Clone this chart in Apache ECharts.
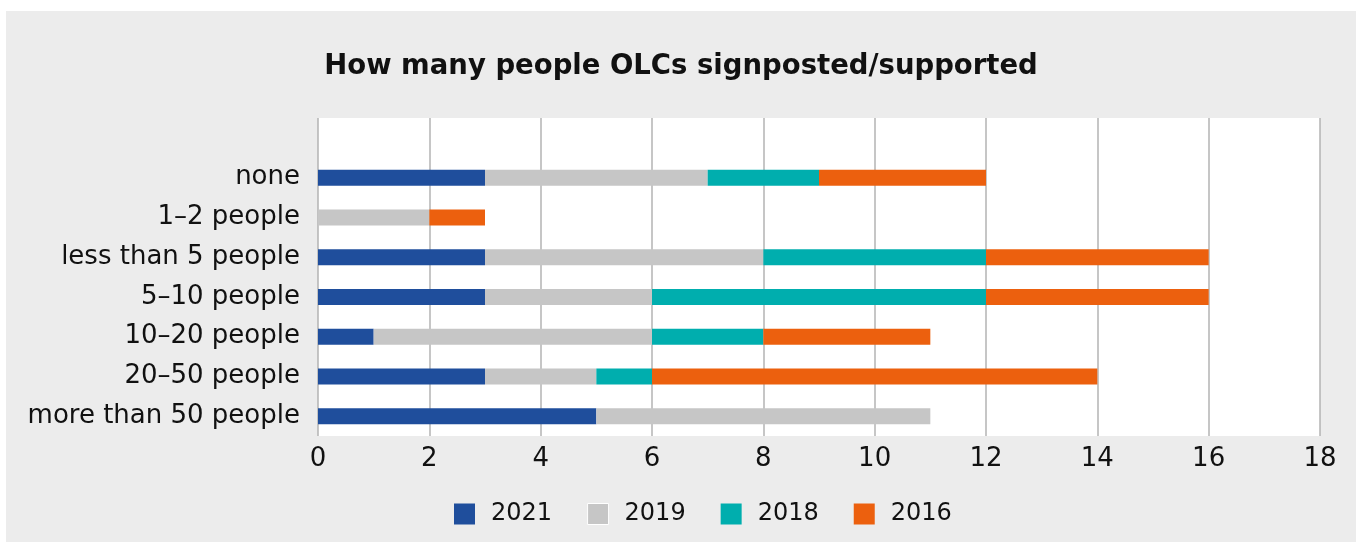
<!DOCTYPE html>
<html>
<head>
<meta charset="utf-8">
<script src="https://cdn.jsdelivr.net/npm/echarts@6/dist/echarts.min.js"></script>
<style>
html,body{margin:0;padding:0;background:#fff;width:1356px;height:542px;overflow:hidden;}
#chart{position:absolute;left:6px;top:11px;width:1350px;height:531px;background:#ececec;}
</style>
</head>
<body>
<div id="chart"></div>
<script>
const title = 'How many people OLCs signposted/supported';
const categories = ['none','1–2 people','less than 5 people','5–10 people','10–20 people','20–50 people','more than 50 people'];
const seriesNames = ['2021','2019','2018','2016'];
const values2021 = [3, 0, 3, 3, 1, 3, 5];
const values2019 = [4, 2, 5, 3, 5, 2, 6];
const values2018 = [2, 0, 4, 6, 2, 1, 0];
const values2016 = [3, 1, 4, 4, 3, 8, 0];
const xTicks = [0, 2, 4, 6, 8, 10, 12, 14, 16, 18];
const colors = ['#1f4e9c', '#c6c6c6', '#00aeae', '#ec600e'];

const FONT = 'DejaVu Sans';
const allValues = [values2021, values2019, values2018, values2016];
const axisCats = [''].concat(categories);
const chart = echarts.init(document.getElementById('chart'));
chart.setOption({
  animation: false,
  title: {
    text: title, left: 'center', top: 37,
    textStyle: {fontFamily: FONT, fontWeight: 'bold', fontSize: 27.5, color: '#111'}
  },
  legend: {
    data: seriesNames.map(n => n === '2019'
      ? {name: n, itemStyle: {borderColor: '#fff', borderWidth: 1}}
      : {name: n}),
    top: 491, left: 448, padding: 0,
    itemWidth: 21, itemHeight: 21, itemGap: 35,
    icon: 'rect',
    textStyle: {fontFamily: FONT, fontSize: 24, color: '#111', padding: [0,0,0,11], width: 58}
  },
  grid: {left: 312, right: 36, top: 107, bottom: 106, show: true, backgroundColor: '#fff', borderWidth: 0},
  xAxis: {
    type: 'value', min: xTicks[0], max: xTicks[xTicks.length-1], interval: 2,
    axisLine: {show: false}, axisTick: {show: false},
    splitLine: {lineStyle: {color: '#b3b3b3', width: 1.5}},
    axisLabel: {fontFamily: FONT, fontSize: 26, color: '#111', margin: 10}
  },
  yAxis: {
    type: 'category', inverse: true, data: axisCats,
    axisLine: {show: false}, axisTick: {show: false},
    axisLabel: {fontFamily: FONT, fontSize: 26, color: '#111', margin: 18}
  },
  series: seriesNames.map((n, i) => ({
    name: n, type: 'bar', stack: 'total', barWidth: 16,
    itemStyle: {color: colors[i]},
    data: [null].concat(allValues[i])
  }))
});
</script>
</body>
</html>
